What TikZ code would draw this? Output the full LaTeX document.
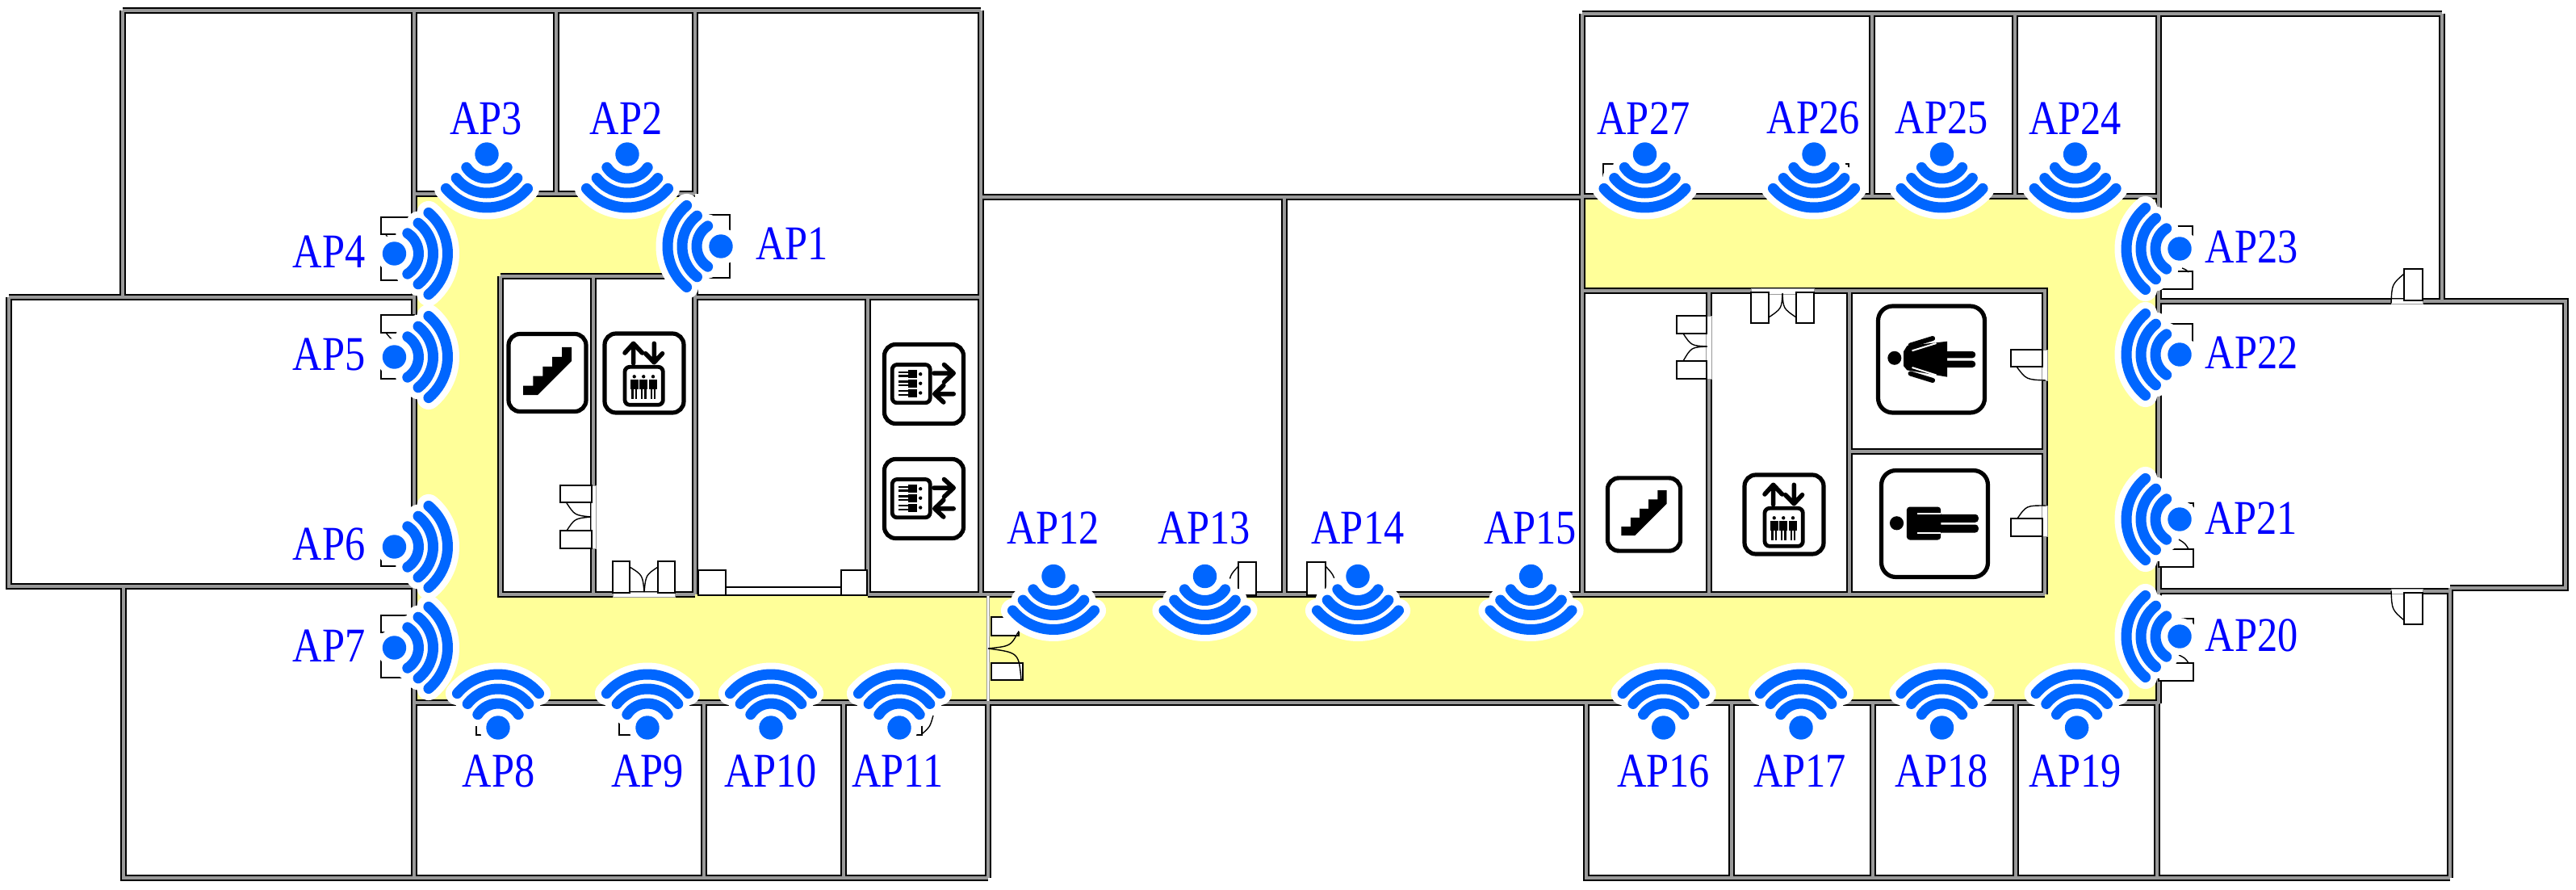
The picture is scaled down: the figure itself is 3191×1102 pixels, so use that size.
\documentclass[tikz,border=0pt]{standalone}
\usepackage{fontspec}
\setmainfont[FakeStretch=.84]{Liberation Serif}
\usetikzlibrary{calc}
\definecolor{apblue}{HTML}{0066FF}
\definecolor{apyellow}{HTML}{FFFF99}
\definecolor{wallgray}{HTML}{999999}
\tikzset{
	wall/.style={draw=black,line width=1pt,double=wallgray,double distance=2pt},
	thin wall/.style={draw=wallgray,line width=.4pt,double=white,double distance=1pt},
	door/.style={draw=black,line width=.7pt,fill=white},
	door gap/.style={draw=wallgray,line width=.4pt,fill=white},
	door arc/.style={draw=black,line width=.7pt},
	sign box/.style={draw=black,line width=2.6pt,fill=white},
	sign ink/.style={draw=black,line width=2.8pt,line cap=round,line join=round},
	wifi arc/.style={draw=apblue,line width=6.5pt,line cap=round},
	wifi halo/.style={draw=white,line width=14.5pt,line cap=round},
	ap label/.style={text=blue,inner sep=0pt,font=\fontsize{30}{36}\selectfont},
	wifi/.pic={
		\fill[white] (0,0) circle (23);
		\foreach \rad/\ang in {30/57,48/52,66/50}
			\draw[wifi halo] (90-\ang:\rad) arc[start angle=90-\ang,end angle=90+\ang,radius=\rad];
		\foreach \rad/\ang in {30/57,48/52,66/50}
			\draw[wifi arc] (90-\ang:\rad) arc[start angle=90-\ang,end angle=90+\ang,radius=\rad];
		\fill[apblue] (0,0) circle (14.7);
	},
	stair sign/.pic={
		\draw[sign box,rounded corners=7pt] (-48,-48) rectangle (48,48);
		\fill (-30,16) -- (-17.6,16) -- (-17.6,4) -- (-5.7,4) -- (-5.7,-7.7) -- (6,-7.7) -- (6,-19.7)
			-- (18,-19.7) -- (18,-31.7) -- (30,-31.7) -- (30,-14.3) -- (-12,27.7) -- (-30,27.7) -- cycle;
	},
	lift sign/.pic={
		\draw[sign box,rounded corners=7pt] (-49,-49) rectangle (49,49);
		\draw[sign ink] (-13.4,-12.3) -- (-13.4,-36.7) (-24,-25) -- (-13.4,-36.7) -- (-2.4,-25);
		\draw[sign ink] (12.3,-36.7) -- (12.3,-13.3) (1.6,-24.3) -- (12.3,-13.3) -- (22.5,-24.3);
		\draw[sign ink,line width=2.4pt,rounded corners=3pt] (-24,-7.7) rectangle (23.3,39.3);
		\foreach \p in {-12.3,-.8,11} {
			\fill (\p,4.3) circle (2.2);
			\fill (\p-5,8.3) rectangle (\p+5,20);
			\fill (\p-3.4,20) rectangle (\p-1.2,32);
			\fill (\p+1.2,20) rectangle (\p+3.4,32);
		}
	},
	man sign/.pic={
		\draw[sign box,rounded corners=9pt] (-66,-66) rectangle (66,66);
		\fill (-47,-.7) circle (8.6);
		\fill[rounded corners=2pt] (-34.7,-21) rectangle (7.8,20);
		\fill[rounded corners=2pt] (0,-11.7) rectangle (54.3,-1.7);
		\fill[rounded corners=2pt] (0,1) rectangle (54.3,11);
		\draw[white,line width=.8pt] (-21.6,-12.7) -- (7.8,-12.7) (-21.6,11.7) -- (7.8,11.7);
		\fill[white] (7.8,-21.5) rectangle (9,-12.7) (7.8,11.7) rectangle (9,20.5);
	},
	woman sign/.pic={
		\draw[sign box,rounded corners=9pt] (-66,-66) rectangle (66,66);
		\fill (-45.7,-1.7) circle (8.5);
		\fill (19.6,-22.3) -- (19.6,21.7) -- (-30.2,13.3) -- (-34.3,8.3) -- (-34.3,-10) -- (-30.2,-16.7) -- cycle;
		\draw[white,line width=1pt] (-24,-10.7) -- (6,-20) (-24,10) -- (6,19.5);
		\draw[black,line width=3pt,line cap=round] (-26,-17.5) -- (1.6,-26) (-26,17.5) -- (1.6,26);
		\fill[rounded corners=2pt] (15,-10) rectangle (54.7,-1.7);
		\fill[rounded corners=2pt] (15,1.7) rectangle (54.7,10);
	}
}

\begin{document}
\begin{tikzpicture}[x=.5pt,y=-.5pt]
  \useasboundingbox (0,0) rectangle (3191,1102);
  % corridor
  \fill[apyellow] (513,240) -- (861,240) -- (861,342) -- (620,342) -- (620,736) -- (2533,736) -- (2533,360)
    -- (1960,360) -- (1960,243) -- (2674,243) -- (2674,870) -- (513,870) -- cycle;
  % west wing
  \draw[wall] (152,13) -- (1215,13) (152,13) -- (152,368) (11,368) -- (513,368) (11,368) -- (11,726) -- (513,726)
    (153,726) -- (153,1087) -- (1224,1087) (513,13) -- (513,1087) (689,13) -- (689,240) (513,240) -- (861,240)
    (861,13) -- (861,240) (861,368) -- (1215,368) (1215,13) -- (1215,736) (620,342) -- (861,342)
    (620,342) -- (620,736) -- (861,736) (735,342) -- (735,736) (861,342) -- (861,736) (1075,368) -- (1075,736)
    (1075,736) -- (1224,736) (872,870) -- (872,1087) (1045,870) -- (1045,1087) (1224,870) -- (1224,1087)
  % middle part
    (513,870) -- (2675,870) (1215,244) -- (1960,244) (1591,244) -- (1591,736) (1224,736) -- (2533,736)
  % east wing
    (1960,17) -- (3025,17) (1960,17) -- (1960,736) (2319,17) -- (2319,243) (2496,17) -- (2496,243)
    (2674,17) -- (2674,871) (1960,243) -- (2674,243) (1960,360) -- (2533,360) -- (2533,736) (2117,360) -- (2117,736)
    (2291,360) -- (2291,736) (2291,559) -- (2533,559) (3025,17) -- (3025,373) (2674,373) -- (3178,373) -- (3178,728) -- (3035,728)
    (2674,732) -- (3035,732) (3035,728) -- (3035,1087) (1965,870) -- (1965,1087) -- (3035,1087)
    (2145,870) -- (2145,1087) (2320,870) -- (2320,1087) (2497,870) -- (2497,1087) (2672,870) -- (2672,1087);
  \draw[thin wall] (1224,738) -- (1224,868);
  % door openings in the walls
  \foreach \xa/\ya/\xb/\yb in {732/601/738/679, 759/733/836/739, 2113/391/2120/469, 2169/357/2247/364,
    2529/433/2536/471, 2529/626/2536/664, 2962/370/3001/376, 2962/729/3001/735}
    \draw[door gap] (\xa,\ya) rectangle (\xb,\yb);
  % doors
  \foreach \xa/\ya/\xb/\yb in {694/601/733/622, 694/657/733/679, 759/695/780/734, 815/695/836/734,
    865/706/899/737, 1042/706/1074/737, 899/727/1042/737, 1228/764/1262/787, 1228/821/1267/842,
    472/269/513/290, 472/325/513/347, 472/390/513/412, 472/447/513/469, 472/679/513/701, 472/762/513/783,
    472/817/513/839, 861/266/904/288, 861/322/904/344, 590/870/612/910, 767/870/789/910, 1120/870/1142/910,
    1534/696/1556/737, 1619/696/1642/737, 1986/203/2007/243, 2268/203/2290/243, 2041/870/2063/910,
    2077/391/2114/413, 2077/447/2114/469, 2169/362/2191/400, 2225/362/2247/400, 2491/433/2530/454, 2491/642/2530/664,
    2978/333/3001/372, 2978/734/3001/773, 2674/280/2716/302, 2674/336/2716/358, 2674/401/2716/423,
    2674/623/2717/644, 2674/680/2717/702, 2674/766/2717/788, 2674/821/2717/843}
    \draw[door] (\xa,\ya) rectangle (\xb,\yb);
  \draw[door arc] (732,640) .. controls (712,638) .. (702,623) (732,640) .. controls (712,642) .. (702,657)
    (798,733) .. controls (796,712) .. (780,702) (798,733) .. controls (800,712) .. (815,702)
    (1224,803) .. controls (1252,800) .. (1261,783) (1224,803) .. controls (1262,808) .. (1265,842)
    (1534,701) .. controls (1524,712) .. (1522,725) (1642,701) .. controls (1652,712) .. (1655,725)
    (1156,886) .. controls (1152,900) .. (1143,908) (478,291) .. controls (483,296) .. (486,300)
    (478,412) .. controls (483,418) .. (486,421) (2703,332) .. controls (2708,334) .. (2711,337)
    (2699,668) .. controls (2707,673) .. (2711,680) (2699,811) .. controls (2707,815) .. (2711,821)
    (2978,339) .. controls (2963,352) .. (2962,375) (2962,732) .. controls (2963,755) .. (2978,768)
    (2115,429) .. controls (2095,428) .. (2085,413) (2115,429) .. controls (2095,430) .. (2085,447)
    (2208,363) .. controls (2207,382) .. (2191,393) (2208,363) .. controls (2209,382) .. (2225,393)
    (2498,454) .. controls (2510,470) .. (2534,471) (2499,642) .. controls (2510,626) .. (2534,626);
  % signs
  \pic at (678,461.5) {stair sign};
  \pic at (798,462) {lift sign};
  \pic[rotate=-90] at (1144.5,475.5) {lift sign};
  \pic[rotate=-90] at (1144.5,617.5) {lift sign};
  \pic[scale=.94] at (2036.5,637) {stair sign};
  \pic at (2210,637) {lift sign};
  \pic at (2392.5,445) {woman sign};
  \pic at (2396.5,648.5) {man sign};
  % access points
  \foreach \n/\x/\y/\r/\lx/\ly in {1/893/305/-90/981/302, 2/777/191/0/775.5/147, 3/603/191/0/602/147,
    4/488.5/314/90/407.5/312, 5/488.5/442/90/407.5/439, 6/488.5/677/90/407.5/674, 7/488.5/802/90/407.5/800,
    8/617/901/180/617.5/954.5, 9/802/901/180/802/954.5, 10/955/901/180/954.5/954.5, 11/1114/901/180/1112/954.5,
    12/1305/713.5/0/1304.5/653.5, 13/1492.5/713.5/0/1491.7/653.5, 14/1682/713.5/0/1682/653.5, 15/1896.5/713.5/0/1895.5/653.5,
    16/2060.7/901/180/2060.5/954.5, 17/2231/901/180/2229.4/954.5, 18/2405.5/901/180/2405/954.5, 19/2572.6/901/180/2570.6/954.5,
    20/2700/788/-90/2789/786.4, 21/2700/643/-90/2788.5/641.6, 22/2700/439/-90/2789/436.6, 23/2700/308/-90/2789/306,
    24/2570.6/191/0/2570.6/146.4, 25/2405.5/191/0/2405/146.4, 26/2247/191/0/2246/146.4, 27/2037.5/191/0/2036/146.4} {
    \pic[rotate=\r] at (\x,\y) {wifi};
    \node[ap label] (AP\n) at (\lx,\ly) {AP\n};
  }
\end{tikzpicture}
\end{document}
